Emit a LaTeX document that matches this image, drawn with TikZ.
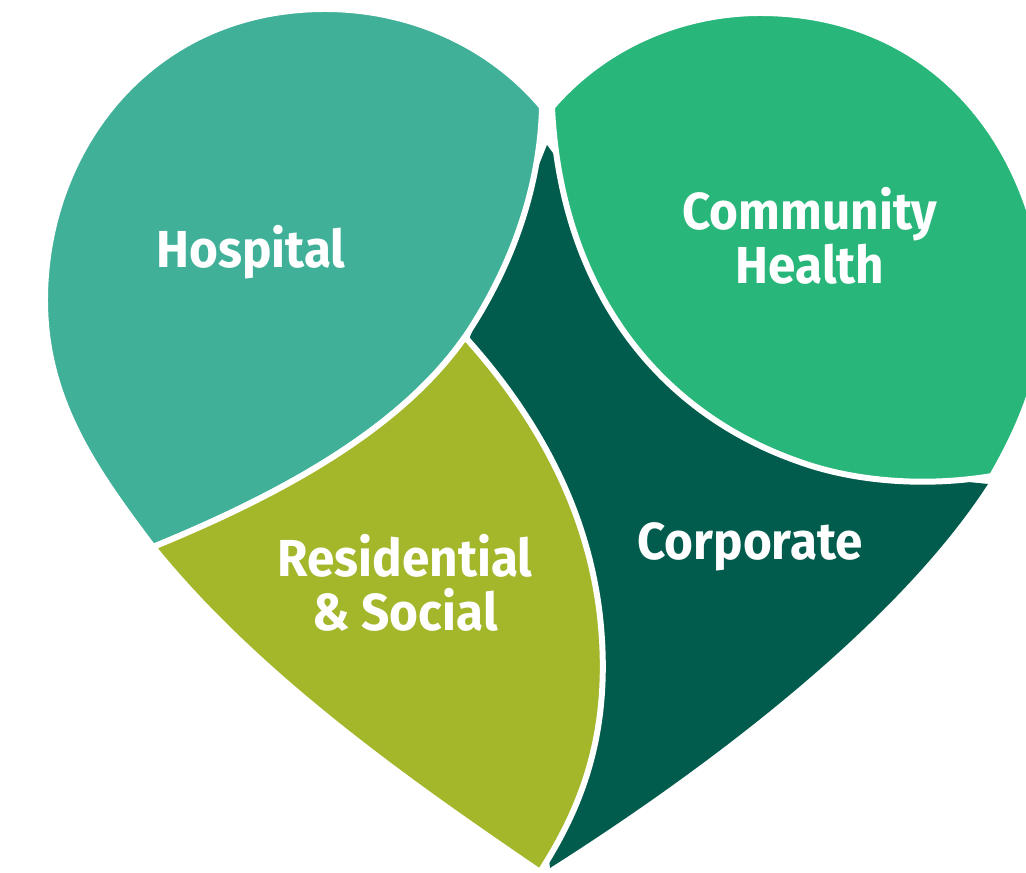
\documentclass[tikz,border=0pt]{standalone}
\usepackage{fontspec}
\setmainfont{Fira Sans}[FakeStretch=0.95]
\definecolor{hospteal}{HTML}{40B198}
\definecolor{commgreen}{HTML}{28B67A}
\definecolor{resolive}{HTML}{A4B62A}
\definecolor{corpgreen}{HTML}{025C4D}

\begin{document}
\begin{tikzpicture}
		[
			x=0.01cm, y=-0.01cm,
			region/.style = {draw=white, line width=1.7pt, line join=round},
			secname/.style = {align=center, text=white, inner sep=0pt, font=\bfseries\fontsize{14.8}{15.5}\selectfont},
		]
		\useasboundingbox (0,0) rectangle (1026,873);
		\clip (0,0) rectangle (1026,873);

		% corporate, lies under the others
		\fill[corpgreen] (547,145) -- (470,337) -- (520,600) -- (550,868)
			.. controls (720,760) and (900,620) .. (988,484)
			-- (800,465) -- (640,300) -- (558,160) -- cycle;

		% hospital
		\filldraw[region, fill=hospteal] (542,107)
			.. controls (490,45) and (410,9) .. (325,9)
			.. controls (150,9) and (45,150) .. (45,300)
			.. controls (45,400) and (95,470) .. (153,547)
			.. controls (280,495) and (400,430) .. (465,337)
			.. controls (510,270) and (540,190) .. (542,107) -- cycle;

		% residential
		\filldraw[region, fill=resolive] (153,547)
			.. controls (280,495) and (400,430) .. (465,337)
			.. controls (540,420) and (595,520) .. (602,640)
			.. controls (608,740) and (580,810) .. (540,872)
			.. controls (420,790) and (260,680) .. (153,547) -- cycle;

		% community health
		\filldraw[region, fill=commgreen] (552,107)
			.. controls (610,40) and (690,13) .. (760,13)
			.. controls (900,13) and (1000,100) .. (1035,230)
			.. controls (1062,330) and (1030,410) .. (992,476)
			.. controls (920,488) and (850,480) .. (800,462)
			.. controls (650,410) and (560,280) .. (552,107) -- cycle;

		% names
		\node[secname, anchor=base] (hospital)    at ( 251, 268 ) {Hospital};
		\node[secname]              (community)   at ( 810, 236 ) {Community\\Health};
		\node[secname, anchor=base] (corporate)   at ( 750, 560 ) {Corporate};
		\node[secname]              (residential) at ( 405, 583 ) {Residential\\\& Social};

\end{tikzpicture}
\end{document}
